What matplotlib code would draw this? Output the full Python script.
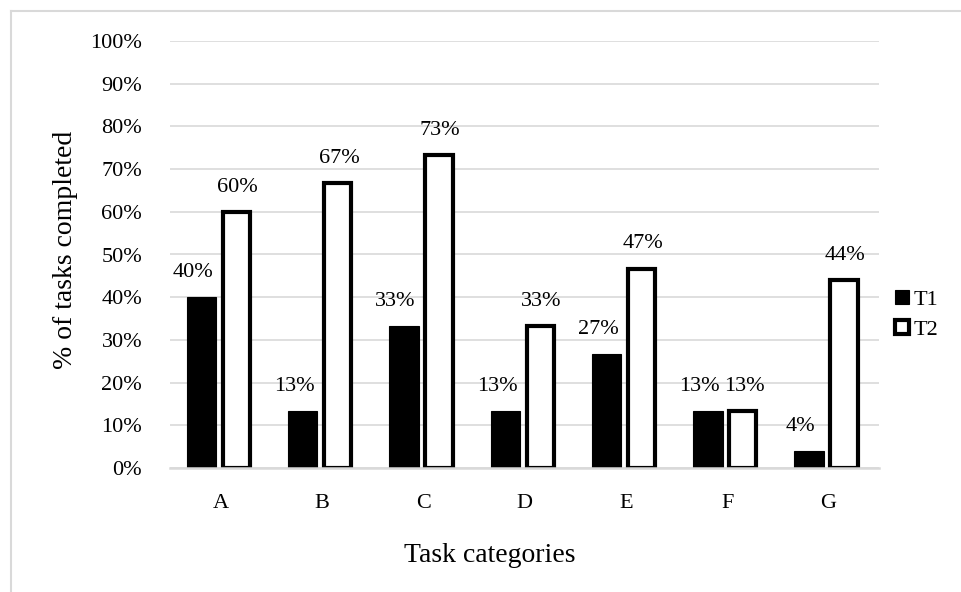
import numpy as np
import matplotlib.pyplot as plt
from matplotlib.lines import Line2D

categories = ["A", "B", "C", "D", "E", "F", "G"]
t1_values = [40.0, 13.3, 33.3, 13.3, 26.7, 13.3, 4.0]
t2_values = [60.0, 66.7, 73.3, 33.3, 46.7, 13.3, 44.0]
t1_labels = ["40%", "13%", "33%", "13%", "27%", "13%", "4%"]
t2_labels = ["60%", "67%", "73%", "33%", "47%", "13%", "44%"]
y_ticks = list(range(0, 101, 10))


def main():
    plt.rcParams["font.family"] = ["Liberation Serif", "DejaVu Serif"]
    fig = plt.figure(figsize=(9.61, 5.92), dpi=100)
    ax = fig.add_axes([170 / 961, 1 - 468 / 592, 709 / 961, 427 / 592])

    x = np.arange(len(categories))
    ax.bar(x - 0.19, t1_values, 0.29, color="black", edgecolor="black", linewidth=0.8, label="T1", zorder=3)
    ax.bar(x + 0.155, t2_values, 0.27, color="white", edgecolor="black", linewidth=3, label="T2", zorder=3)

    for i in range(len(categories)):
        ax.annotate(t1_labels[i], (x[i] - 0.19, t1_values[i]), xytext=(-6, 11), textcoords="offset points",
                    ha="center", va="bottom", fontsize=16)
        ax.annotate(t2_labels[i], (x[i] + 0.155, t2_values[i]), xytext=(1, 11), textcoords="offset points",
                    ha="center", va="bottom", fontsize=16)

    ax.set_xlim(-0.5, len(categories) - 0.5)
    ax.set_ylim(0, 100)
    ax.set_yticks(y_ticks)
    ax.set_yticklabels([f"{v}%" for v in y_ticks], fontsize=16)
    ax.set_xticks(x)
    ax.set_xticklabels(categories, fontsize=16)
    ax.tick_params(axis="x", length=0, pad=19)
    ax.tick_params(axis="y", length=0, pad=20)
    ax.grid(axis="y", color="#d9d9d9", linewidth=1.2, zorder=0)
    for s in ["top", "right", "left"]:
        ax.spines[s].set_visible(False)
    ax.spines["bottom"].set_color("#d9d9d9")
    ax.spines["bottom"].set_linewidth(1.8)
    ax.spines["bottom"].set_zorder(4)

    ax.set_ylabel("% of tasks completed", fontsize=20)
    ax.yaxis.set_label_coords(-0.13, 0.51)
    ax.set_xlabel("Task categories", fontsize=20)
    ax.xaxis.set_label_coords(0.451, -0.175)

    ax.legend(loc="center left", bbox_to_anchor=(0.995, 0.358), frameon=False, fontsize=16,
              handlelength=0.6, handleheight=0.6, handletextpad=0.2, labelspacing=0.45)

    # outer chart border (only top and left edge are in the frame)
    fig.add_artist(Line2D([11 / 961, 11 / 961], [0, 1 - 11 / 592], transform=fig.transFigure,
                          color="#d9d9d9", linewidth=1.5))
    fig.add_artist(Line2D([11 / 961, 1], [1 - 11 / 592, 1 - 11 / 592], transform=fig.transFigure,
                          color="#d9d9d9", linewidth=1.5))
    fig.savefig("out.png", dpi=100)


if __name__ == "__main__":
    main()
